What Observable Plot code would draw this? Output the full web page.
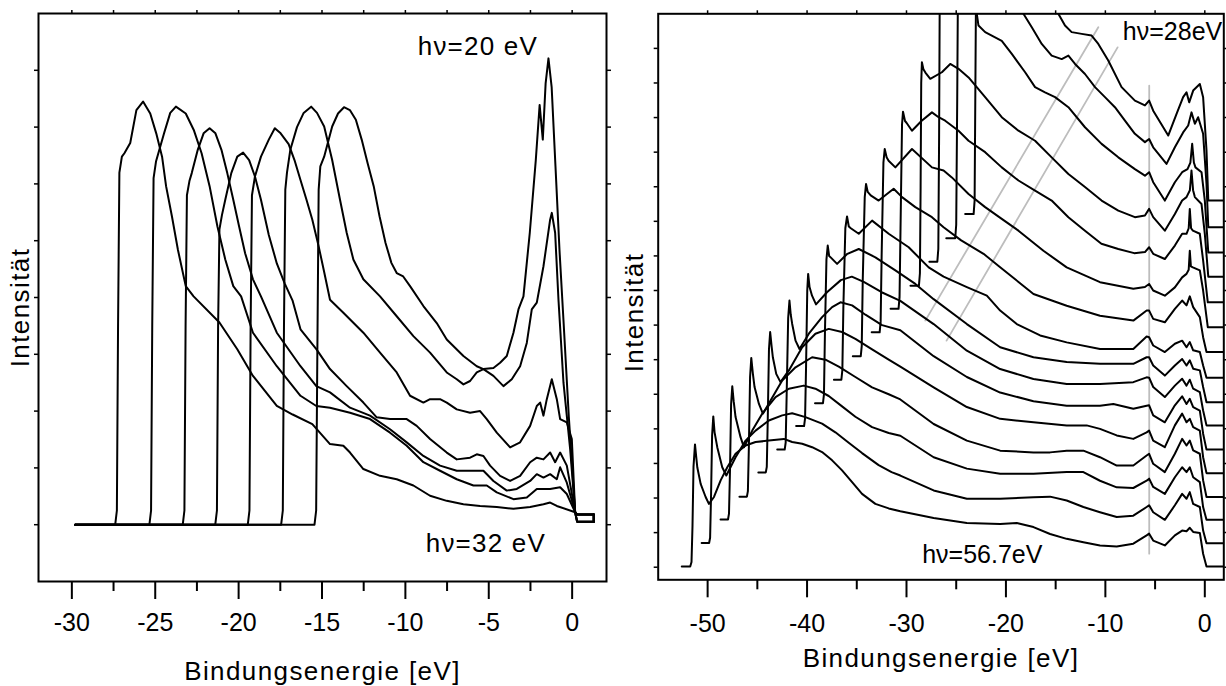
<!DOCTYPE html>
<html><head><meta charset="utf-8">
<script src="https://cdn.jsdelivr.net/npm/d3@7"></script>
<script src="https://cdn.jsdelivr.net/npm/@observablehq/plot@0.6"></script>
<style>
html,body{margin:0;padding:0;background:#fff;}
#wrap{position:relative;width:1226px;height:686px;overflow:hidden;background:#fff;}
#left{position:absolute;left:0;top:0;}
#right{position:absolute;left:620px;top:0;}
</style></head><body><div id="wrap"><div id="left"></div><div id="right"></div></div>
<script>
// ---------- LEFT PANEL DATA (binding energy eV, intensity) ----------
const leftPhotonEnergies = [20, 22, 24, 26, 28, 30, 32];
const hv20 = [[-29.8,1],[-15.45,1],[-15.35,1.25],[-15.28,4.0],[-15.2,6.9],[-15.1,7.31],[-14.87,7.48],[-14.39,8.01],[-14.04,8.24],[-13.68,8.35],[-13.33,8.3],[-12.97,8.13],[-12.62,7.78],[-12.26,7.36],[-11.9,6.96],[-11.55,6.43],[-11.19,5.96],[-10.84,5.61],[-10.52,5.43],[-10.13,5.37],[-9.72,5.2],[-8.92,4.85],[-8.12,4.55],[-7.52,4.26],[-6.52,3.97],[-5.72,3.79],[-5.32,3.74],[-4.72,3.62],[-4.12,3.44],[-3.62,3.56],[-3.12,3.79],[-2.72,4.2],[-2.42,4.79],[-2.12,4.91],[-1.72,5.55],[-1.32,6.37],[-1.22,6.49],[-1.02,6.14],[-0.82,4.96],[-0.52,3.5],[-0.12,2.33],[0.18,1.22],[0.3,1.18],[1.3,1.18],[1.3,1.05]];
const hv22 = [[-29.8,1],[-17.45,1],[-17.35,1.25],[-17.28,4.5],[-17.2,6.9],[-17.1,7.2],[-16.9,7.6],[-16.5,8.0],[-16.1,8.25],[-15.65,8.36],[-15.3,8.25],[-14.87,8.01],[-14.39,7.42],[-13.92,6.72],[-13.52,6.14],[-13.12,5.67],[-12.52,5.32],[-11.52,5.02],[-10.52,4.67],[-9.52,4.32],[-8.52,4.03],[-7.52,3.68],[-6.92,3.56],[-6.52,3.47],[-6.12,3.53],[-5.72,3.68],[-5.32,3.74],[-4.72,3.76],[-4.32,3.85],[-3.92,3.97],[-3.52,4.38],[-3.22,4.79],[-2.92,5.02],[-2.54,6.14],[-2.18,7.42],[-1.95,8.39],[-1.76,7.78],[-1.59,8.77],[-1.42,9.21],[-1.23,8.71],[-1.0,7.31],[-0.76,5.84],[-0.52,4.6],[-0.2,2.9],[0.18,1.22],[0.3,1.05],[1.3,1.05],[1.3,1.18]];
const hv24 = [[-29.8,1],[-19.45,1],[-19.35,1.25],[-19.28,4.5],[-19.2,6.8],[-19.02,7.13],[-18.66,7.48],[-18.19,7.78],[-17.83,7.98],[-17.48,7.89],[-17.0,7.7],[-16.65,7.42],[-16.29,7.07],[-15.93,6.72],[-15.58,6.37],[-15.2,5.9],[-14.87,5.45],[-14.52,4.96],[-13.72,4.73],[-12.52,4.38],[-11.52,4.03],[-10.52,3.68],[-9.72,3.27],[-8.92,3.15],[-8.52,3.21],[-7.92,3.21],[-7.52,3.15],[-6.92,3.03],[-6.12,2.97],[-5.52,3.0],[-5.12,2.86],[-4.52,2.62],[-3.72,2.36],[-3.12,2.45],[-2.52,2.74],[-2.12,3.09],[-1.92,3.15],[-1.72,2.92],[-1.52,3.21],[-1.22,3.56],[-0.92,3.21],[-0.72,2.86],[-0.32,2.8],[-0.02,2.51],[0.18,1.22],[0.3,1.18],[1.3,1.18],[1.3,1.05]];
const hv26 = [[-29.8,1],[-21.4,1],[-21.3,1.25],[-21.23,4.5],[-21.15,6.2],[-21.0,6.45],[-20.8,6.72],[-20.44,7.19],[-20.08,7.48],[-19.73,7.55],[-19.37,7.42],[-19.02,7.13],[-18.66,6.72],[-18.19,6.1],[-17.71,5.6],[-17.24,5.25],[-16.77,4.95],[-16.29,4.44],[-15.34,4.09],[-14.52,3.74],[-13.52,3.44],[-12.52,3.15],[-11.72,2.89],[-10.92,2.86],[-9.92,2.86],[-9.32,2.74],[-8.52,2.51],[-7.52,2.27],[-6.92,2.15],[-6.12,2.18],[-5.72,2.24],[-5.32,2.21],[-4.92,2.04],[-4.32,1.86],[-3.72,1.77],[-3.12,1.86],[-2.52,2.1],[-2.12,2.18],[-1.72,2.15],[-1.32,2.27],[-1.02,2.1],[-0.72,2.27],[-0.32,2.04],[0.18,1.22],[0.3,1.05],[1.3,1.05],[1.3,1.18]];
const hv28 = [[-29.8,1],[-23.35,1],[-23.25,1.25],[-23.18,4.5],[-23.1,6.8],[-22.95,7.05],[-22.81,7.19],[-22.45,7.6],[-22.1,7.89],[-21.74,7.98],[-21.39,7.89],[-21.03,7.6],[-20.68,7.19],[-20.32,6.72],[-19.97,6.25],[-19.61,5.78],[-19.14,5.32],[-18.66,5.02],[-17.71,4.38],[-16.29,3.79],[-15.34,3.44],[-14.52,3.33],[-13.32,3.06],[-12.12,2.92],[-10.92,2.68],[-9.92,2.45],[-8.92,2.21],[-7.92,2.04],[-6.92,1.95],[-5.92,1.95],[-5.32,1.95],[-4.72,1.77],[-3.92,1.6],[-3.32,1.63],[-2.52,1.77],[-2.12,1.89],[-1.72,1.83],[-1.32,1.89],[-0.92,1.8],[-0.72,2.01],[-0.32,1.74],[0.18,1.22],[0.3,1.18],[1.3,1.18],[1.3,1.05]];
const hv30 = [[-29.8,1],[-25.35,1],[-25.25,1.25],[-25.18,4.5],[-25.1,7.1],[-24.95,7.4],[-24.47,7.89],[-24.1,8.25],[-23.76,8.36],[-23.17,8.24],[-22.69,7.95],[-22.22,7.54],[-21.74,6.96],[-21.27,6.25],[-20.8,5.67],[-20.32,5.2],[-19.85,5.02],[-19.14,4.38],[-17.71,3.79],[-16.29,3.27],[-15.34,3.09],[-14.52,3.06],[-13.32,2.97],[-12.12,2.86],[-10.92,2.62],[-9.92,2.39],[-8.92,2.1],[-7.92,1.95],[-6.92,1.8],[-5.92,1.69],[-5.12,1.69],[-4.52,1.57],[-3.52,1.45],[-2.72,1.48],[-2.12,1.63],[-1.32,1.63],[-0.72,1.66],[-0.32,1.54],[0.18,1.22],[0.3,1.05],[1.3,1.05],[1.3,1.18]];
const hv32 = [[-29.8,1],[-27.4,1],[-27.3,1.25],[-27.23,4.5],[-27.15,7.2],[-27.0,7.48],[-26.85,7.54],[-26.5,7.72],[-26.13,8.3],[-25.73,8.45],[-25.3,8.24],[-24.94,7.89],[-24.59,7.48],[-24.35,6.96],[-24.0,6.43],[-23.64,5.84],[-23.17,5.2],[-22.7,5.02],[-21.15,4.56],[-20.08,4.09],[-19.14,3.62],[-17.71,3.09],[-16.76,2.94],[-15.58,2.77],[-14.52,2.42],[-13.72,2.39],[-13.32,2.27],[-12.52,1.98],[-11.52,1.86],[-10.52,1.8],[-9.52,1.69],[-8.52,1.51],[-7.52,1.42],[-6.52,1.36],[-5.52,1.33],[-4.52,1.31],[-3.52,1.28],[-2.52,1.31],[-1.72,1.36],[-1.32,1.39],[-0.92,1.33],[0.18,1.22],[0.3,1.18],[1.3,1.18],[1.3,1.05]];
const leftLabels = [{x: -2.05, y: 9.41, text: "hν=20 eV"}, {x: -1.57, y: 0.66, text: "hν=32 eV"}];
const leftMajorTicks = [-30, -25, -20, -15, -10, -5, 0];
const leftMinorTicks = [-27.5, -22.5, -17.5, -12.5, -7.5, -2.5];
const leftYTicks = [1, 2, 3, 4, 5, 6, 7, 8, 9];

// ---------- RIGHT PANEL DATA ----------
const rightPhotonEnergies = [56.7, 54.8, 52.9, 51.0, 49.0, 47.1, 45.2, 43.3, 41.4, 39.5, 37.6, 35.7, 33.7, 31.8, 29.9, 28.0];
const r56_7 = [[-52.6,0.02],[-51.75,0.02],[-51.62,0.15],[-51.52,1.2],[-51.42,2.9],[-51.27,3.55],[-51.15,3.2],[-51.04,2.89],[-50.7,2.41],[-50.2,2.03],[-49.87,1.83],[-49.36,2.03],[-48.69,2.51],[-48.02,2.89],[-47.19,3.28],[-46.18,3.52],[-45.18,3.62],[-43.84,3.66],[-42.33,3.71],[-41.5,3.62],[-40.49,3.57],[-39.49,3.47],[-38.49,3.33],[-37.48,3.09],[-36.48,2.8],[-35.47,2.46],[-34.47,2.12],[-33.13,1.83],[-31.79,1.7],[-30.62,1.62],[-27.27,1.42],[-23.93,1.28],[-20.58,1.25],[-18.91,1.28],[-17.23,1.16],[-15.56,0.96],[-13.89,0.82],[-12.21,0.72],[-10.54,0.63],[-8.86,0.6],[-7.19,0.68],[-5.85,0.92],[-5.6,0.97],[-5.19,0.77],[-4.02,0.63],[-3.01,0.92],[-2.28,1.06],[-1.84,1.04],[-1.51,1.14],[-1.17,1.02],[-0.5,0.99],[-0.17,0.39],[0.17,0.02],[1.9,0.02]];
const r54_8 = [[-50.6,0.7],[-49.85,0.7],[-49.75,0.85],[-49.66,2.0],[-49.55,3.8],[-49.43,4.36],[-49.3,3.9],[-49.03,3.47],[-48.53,2.89],[-48.12,2.65],[-47.19,3.18],[-46.18,3.66],[-45.18,3.95],[-43.84,4.24],[-42.5,4.39],[-41.5,4.45],[-40.16,4.34],[-38.49,4.15],[-37.15,3.9],[-35.81,3.6],[-34.47,3.3],[-32.8,2.95],[-31.5,2.75],[-30.62,2.65],[-27.27,2.22],[-23.93,1.98],[-20.58,1.98],[-17.23,2.02],[-15.56,2.04],[-13.89,1.93],[-12.21,1.74],[-10.54,1.59],[-8.86,1.45],[-7.19,1.49],[-5.85,1.74],[-5.6,1.79],[-5.19,1.59],[-4.02,1.37],[-3.01,1.79],[-2.28,2.12],[-1.84,1.98],[-1.51,2.17],[-1.17,1.83],[-0.5,1.74],[-0.17,1.06],[0.17,0.69],[1.9,0.69]];
const r52_9 = [[-48.7,1.38],[-47.95,1.38],[-47.85,1.55],[-47.75,2.8],[-47.64,4.7],[-47.52,5.23],[-47.38,4.8],[-47.19,4.34],[-46.69,3.76],[-46.35,3.47],[-45.51,3.95],[-44.51,4.44],[-43.17,4.92],[-41.83,5.16],[-40.33,5.25],[-39.16,5.16],[-37.82,4.95],[-36.48,4.65],[-35.14,4.35],[-33.46,4.05],[-31.79,3.88],[-30.62,3.8],[-27.27,3.18],[-23.93,2.85],[-20.58,2.7],[-17.23,2.7],[-13.89,2.75],[-12.21,2.75],[-10.54,2.5],[-8.86,2.31],[-7.19,2.29],[-5.85,2.5],[-5.6,2.56],[-5.19,2.32],[-4.02,2.12],[-3.01,2.6],[-2.28,2.89],[-1.84,2.75],[-1.51,2.89],[-1.17,2.6],[-0.5,2.46],[-0.17,1.74],[0.17,1.37],[1.9,1.37]];
const r51_0 = [[-46.8,2.04],[-46.05,2.04],[-45.95,2.2],[-45.85,3.5],[-45.73,5.5],[-45.61,6.05],[-45.45,5.6],[-45.28,5.21],[-44.84,4.72],[-44.44,4.44],[-43.67,4.82],[-42.5,5.4],[-41.16,5.78],[-39.49,6.07],[-38.15,6.0],[-36.81,5.8],[-35.14,5.5],[-33.46,5.2],[-31.79,5.0],[-30.62,4.85],[-27.27,4.14],[-23.93,3.66],[-20.58,3.37],[-17.23,3.32],[-15.56,3.32],[-13.89,3.37],[-12.21,3.37],[-10.54,3.18],[-8.86,2.94],[-7.19,2.94],[-5.85,3.23],[-5.6,3.28],[-5.19,2.99],[-4.02,2.75],[-3.01,3.28],[-2.28,3.71],[-1.84,3.52],[-1.51,3.66],[-1.17,3.38],[-0.5,3.28],[-0.17,2.51],[0.17,2.03],[1.9,2.03]];
const r49_0 = [[-44.9,2.74],[-44.15,2.74],[-44.05,2.9],[-43.95,4.3],[-43.83,6.3],[-43.71,6.8],[-43.57,6.4],[-43.44,6.07],[-43.1,5.59],[-42.67,5.35],[-41.83,5.69],[-40.49,6.36],[-39.16,6.75],[-37.82,6.89],[-36.48,6.8],[-35.14,6.6],[-33.46,6.3],[-31.79,6.0],[-30.62,5.8],[-27.27,5.2],[-23.93,4.63],[-20.58,4.29],[-17.23,4.19],[-13.89,4.1],[-11.88,4.1],[-10.54,4.0],[-8.86,3.81],[-7.19,3.71],[-5.85,3.9],[-5.6,3.95],[-5.19,3.66],[-4.02,3.47],[-3.01,4.1],[-2.28,4.44],[-1.84,4.19],[-1.51,4.29],[-1.17,4.05],[-0.5,3.95],[-0.17,3.18],[0.17,2.72],[1.9,2.72]];
const r47_1 = [[-43.0,3.4],[-42.25,3.4],[-42.15,3.6],[-42.05,5.0],[-41.9,7.2],[-41.77,7.71],[-41.64,7.3],[-41.5,7.04],[-41.16,6.55],[-40.76,6.31],[-39.82,6.75],[-38.49,7.23],[-37.48,7.52],[-36.64,7.66],[-35.47,7.57],[-34.13,7.3],[-32.46,7.0],[-30.62,6.85],[-27.27,6.1],[-23.93,5.5],[-20.58,5.05],[-17.23,4.8],[-13.89,4.67],[-10.54,4.67],[-9.2,4.72],[-7.19,4.58],[-5.85,4.67],[-5.6,4.68],[-5.19,4.39],[-4.02,4.19],[-3.01,4.68],[-2.28,4.94],[-1.84,4.72],[-1.51,4.87],[-1.17,4.63],[-0.5,4.53],[-0.17,3.86],[0.17,3.4],[1.9,3.4]];
const r45_2 = [[-41.1,4.08],[-40.3,4.08],[-40.2,4.3],[-40.1,5.8],[-39.98,8.0],[-39.89,8.48],[-39.75,8.1],[-39.5,7.85],[-39.1,7.6],[-38.0,7.95],[-36.6,8.3],[-35.5,8.4],[-34.3,8.25],[-32.5,7.95],[-30.62,7.7],[-27.27,7.03],[-23.93,6.26],[-20.58,5.73],[-17.23,5.44],[-13.89,5.3],[-10.54,5.3],[-7.19,5.35],[-5.85,5.49],[-5.6,5.48],[-5.19,5.21],[-4.02,4.92],[-3.01,5.25],[-2.28,5.45],[-1.84,5.25],[-1.51,5.42],[-1.17,5.16],[-0.5,5.06],[-0.17,4.53],[0.17,4.1],[1.9,4.1]];
const r43_3 = [[-39.2,4.74],[-38.4,4.74],[-38.3,5.0],[-38.2,6.8],[-38.05,8.9],[-37.92,9.3],[-37.78,9.0],[-37.6,8.95],[-36.98,8.77],[-36.0,9.05],[-34.8,9.2],[-33.13,8.96],[-31.12,8.58],[-29.11,8.19],[-27.27,7.75],[-23.93,7.03],[-20.58,6.36],[-17.23,6.07],[-13.89,5.93],[-10.54,5.88],[-7.19,5.88],[-5.85,6.07],[-5.6,6.07],[-5.19,5.83],[-4.02,5.54],[-3.01,5.83],[-2.28,6.02],[-1.84,5.83],[-1.51,5.98],[-1.17,5.74],[-0.5,5.69],[-0.17,5.21],[0.17,4.77],[1.9,4.77]];
const r41_4 = [[-37.3,5.42],[-36.55,5.42],[-36.45,5.7],[-36.35,7.5],[-36.15,9.8],[-35.98,10.14],[-35.8,9.85],[-35.6,9.8],[-34.8,9.64],[-33.46,10.02],[-31.79,9.64],[-29.78,9.25],[-27.77,8.67],[-26.27,8.4],[-23.93,8.1],[-21.92,7.85],[-20.58,7.42],[-18.91,7.03],[-16.56,6.7],[-13.89,6.5],[-10.54,6.31],[-7.19,6.31],[-5.85,6.67],[-5.6,6.65],[-5.19,6.41],[-4.02,6.22],[-3.01,6.46],[-2.28,6.55],[-1.84,6.36],[-1.51,6.51],[-1.17,6.27],[-0.5,6.22],[-0.17,5.83],[0.17,5.48],[1.9,5.48]];
const r39_5 = [[-35.4,6.1],[-34.6,6.1],[-34.5,6.4],[-34.4,8.3],[-34.2,10.7],[-34.07,11.08],[-33.9,10.85],[-33.6,10.75],[-32.8,10.6],[-31.29,10.94],[-30.45,10.7],[-29.11,10.41],[-27.44,10.12],[-26.27,9.83],[-24.5,9.45],[-22.25,9.06],[-20.58,8.67],[-17.23,7.9],[-13.89,7.56],[-10.54,7.27],[-7.19,7.13],[-5.85,7.42],[-5.6,7.42],[-5.19,7.18],[-4.02,7.08],[-3.01,7.47],[-2.28,7.71],[-1.84,7.57],[-1.51,7.83],[-1.17,7.52],[-0.5,7.23],[-0.17,6.65],[0.17,6.22],[1.9,6.22]];
const r37_6 = [[-33.5,6.79],[-32.7,6.79],[-32.6,7.1],[-32.5,9.0],[-32.32,11.7],[-32.19,12.09],[-32.0,11.85],[-31.8,11.75],[-31.12,11.56],[-29.45,12.09],[-27.44,11.56],[-26.27,11.47],[-25.44,11.27],[-23.76,10.79],[-22.09,10.41],[-20.42,10.07],[-18.74,9.73],[-16.23,9.15],[-13.89,8.67],[-10.54,8.24],[-7.19,8.05],[-6.02,8.1],[-5.6,8.19],[-5.19,8.0],[-4.02,7.85],[-3.01,8.09],[-2.28,8.38],[-1.84,8.48],[-1.62,8.6],[-1.51,9.15],[-1.4,8.7],[-1.2,8.67],[-0.5,8.58],[-0.17,8.0],[0.3,6.94],[1.9,6.94]];
const r35_7 = [[-31.6,7.47],[-30.8,7.47],[-30.7,7.8],[-30.6,9.8],[-30.45,12.8],[-30.35,13.17],[-30.15,12.9],[-30.0,12.85],[-29.45,12.62],[-28.5,12.9],[-27.44,13.15],[-26.77,13.01],[-26.11,12.91],[-24.77,12.62],[-23.76,12.33],[-22.09,12.0],[-20.42,11.56],[-18.74,11.18],[-17.07,10.89],[-15.4,10.6],[-13.72,10.12],[-12.05,9.73],[-10.4,9.35],[-8.7,9.2],[-7.1,9.08],[-6.02,9.11],[-5.6,9.25],[-5.19,9.06],[-4.02,8.91],[-3.01,9.3],[-2.28,9.64],[-1.84,9.64],[-1.62,9.8],[-1.51,10.36],[-1.38,9.8],[-1.2,9.73],[-0.5,9.64],[-0.17,8.87],[0.3,7.66],[1.9,7.66]];
const r33_7 = [[-29.6,8.14],[-28.75,8.14],[-28.65,8.5],[-28.58,11.0],[-28.52,14.0],[-28.45,14.6],[-28.3,14.4],[-28.1,14.3],[-27.61,14.12],[-26.44,14.31],[-25.6,14.55],[-24.77,14.41],[-23.76,14.16],[-22.09,13.59],[-20.42,13.01],[-18.74,12.62],[-17.07,12.33],[-15.4,11.85],[-13.72,11.37],[-12.05,10.99],[-10.38,10.6],[-8.7,10.31],[-7.03,10.12],[-6.02,10.17],[-5.6,10.36],[-5.19,10.12],[-4.02,9.73],[-3.01,10.21],[-2.28,10.6],[-1.84,10.7],[-1.5,10.9],[-1.34,11.47],[-1.18,10.9],[-1.0,10.7],[-0.33,10.5],[0.0,9.64],[0.35,8.4],[1.9,8.4]];
const r31_8 = [[-27.7,8.83],[-26.9,8.83],[-26.8,9.2],[-26.72,12.5],[-26.65,17.0],[-26.4,17.8],[-25.0,18.6],[-23.8,17.3],[-22.93,16.0],[-22.76,15.66],[-22.09,15.47],[-20.42,15.22],[-19.41,14.84],[-18.07,14.31],[-17.07,13.88],[-16.07,13.73],[-15.06,13.59],[-13.72,13.3],[-12.05,12.72],[-10.38,12.24],[-8.7,11.85],[-7.03,11.51],[-6.02,11.32],[-5.6,11.42],[-5.19,11.13],[-4.02,10.6],[-3.01,11.13],[-2.28,11.42],[-1.74,11.51],[-1.45,11.7],[-1.27,12.24],[-1.1,11.7],[-0.94,11.56],[-0.33,11.42],[0.0,10.6],[0.35,9.1],[1.9,9.1]];
const r29_9 = [[-26.0,9.51],[-25.1,9.51],[-25.0,9.9],[-24.9,13.5],[-24.82,17.0],[-24.5,18.0],[-22.0,18.5],[-19.5,16.9],[-18.24,16.0],[-17.4,15.61],[-16.4,15.13],[-15.4,14.79],[-14.39,14.69],[-13.72,14.79],[-13.05,14.55],[-12.05,14.26],[-11.04,13.88],[-10.04,13.59],[-9.04,13.3],[-8.03,12.91],[-7.03,12.53],[-6.02,12.29],[-5.6,12.38],[-5.19,12.14],[-3.85,11.66],[-3.01,12.14],[-2.18,12.57],[-1.67,12.77],[-1.34,13.15],[-1.0,12.82],[-0.67,13.01],[-0.17,12.53],[0.17,11.08],[0.35,9.83],[1.9,9.83]];
const r28_0 = [[-24.1,10.21],[-23.25,10.21],[-23.15,10.6],[-23.07,14.0],[-23.0,17.0],[-22.6,18.0],[-19.0,18.8],[-15.8,16.8],[-14.73,16.0],[-14.06,15.66],[-13.39,15.47],[-12.38,15.42],[-11.38,15.37],[-10.71,15.13],[-9.71,14.65],[-8.37,13.88],[-7.03,13.49],[-6.02,13.35],[-5.6,13.49],[-5.19,13.2],[-3.68,12.48],[-2.85,13.1],[-2.18,13.59],[-1.84,13.73],[-1.57,13.44],[-1.17,13.78],[-0.5,13.97],[-0.17,13.59],[0.17,12.05],[0.35,10.6],[1.9,10.6]];
const grayDiagonal1 = [[-28.11, 7.13], [-10.71, 15.61]];
const grayDiagonal2 = [[-25.97, 6.55], [-8.77, 15.03]];
const grayVertical = [[-5.59, 0.39], [-5.59, 13.92]];
const rightLabelTop = [{x: 1.75, y: 15.46, text: "hν=28eV"}];
const rightLabelBottom = [{x: -28.42, y: 0.34, text: "hν=56.7eV"}];
const rightMajorTicks = [-50, -40, -30, -20, -10, 0];
const rightMinorTicks = [-45, -35, -25, -15, -5];
const rightYTicks = [0, 1, 2, 3, 4, 5, 6, 7, 8, 9, 10, 11, 12, 13, 14, 15];
const axisTitleX = "Bindungsenergie [eV]";
const axisTitleY = "Intensität";

// ---------- BUILD ----------
const rows = (pts, id) => pts.map(([x, y]) => ({x, y, id}));
const leftCurves = [hv20, hv22, hv24, hv26, hv28, hv30, hv32];
const rightCurves = [r56_7, r54_8, r52_9, r51_0, r49_0, r47_1, r45_2, r43_3, r41_4, r39_5, r37_6, r35_7, r33_7, r31_8, r29_9, r28_0];
const leftRows = leftCurves.flatMap((c, i) => rows(c, "L" + leftPhotonEnergies[i]));
const rightRows = rightCurves.flatMap((c, i) => rows(c, "R" + rightPhotonEnergies[i]));
const grayRows = [...rows(grayDiagonal1, "g1"), ...rows(grayDiagonal2, "g2"), ...rows(grayVertical, "g3")];
const fmt = d => String(d);
const blank = () => "";
const font = "'Liberation Sans', Arial, Helvetica, sans-serif";
const baseStyle = {fontFamily: font, fontSize: "25px", color: "#000", background: "transparent", overflow: "visible"};

function frameAxes(major, minor, yTicks, padBottom) {
  return [
    Plot.axisX({ticks: major, tickSize: 18, tickPadding: padBottom, tickFormat: fmt, label: null, strokeWidth: 2}),
    Plot.axisX({ticks: minor, tickSize: 10, tickFormat: blank, label: null, strokeWidth: 2}),
    Plot.axisX({anchor: "top", ticks: [...major, ...minor], tickSize: 4, tickFormat: blank, label: null, strokeWidth: 1.5}),
    Plot.axisY({anchor: "left", ticks: yTicks, tickSize: 4, tickFormat: blank, label: null, strokeWidth: 1.5}),
    Plot.axisY({anchor: "right", ticks: yTicks, tickSize: 4, tickFormat: blank, label: null, strokeWidth: 1.5}),
    Plot.frame({stroke: "#000", strokeWidth: 2})
  ];
}

const leftPlot = Plot.plot({
  width: 620, height: 686,
  marginLeft: 38, marginRight: 14, marginTop: 13, marginBottom: 105,
  x: {domain: [-32.0, 2.06]},
  y: {domain: [0, 10]},
  style: baseStyle,
  marks: [
    ...frameAxes(leftMajorTicks, leftMinorTicks, leftYTicks, 14),
    Plot.line(leftRows, {x: "x", y: "y", z: "id", stroke: "#000", strokeWidth: 2, strokeLinejoin: "round"}),
    Plot.text(leftLabels, {x: "x", y: "y", text: "text", textAnchor: "end", lineAnchor: "middle", fontSize: 26}),
    Plot.text([axisTitleX], {frameAnchor: "bottom", dy: 89.7, textAnchor: "middle", lineAnchor: "middle", fontSize: 26}),
    Plot.text([axisTitleY], {frameAnchor: "left", rotate: -90, dx: -18, dy: 10, textAnchor: "middle", lineAnchor: "middle", fontSize: 26})
  ]
});

const rightPlot = Plot.plot({
  width: 606, height: 686,
  marginLeft: 37.7, marginRight: 2.7, marginTop: 13.3, marginBottom: 106.7,
  x: {domain: [-54.97, 1.91]},
  y: {domain: [-0.364, 16]},
  style: baseStyle,
  marks: [
    ...frameAxes(rightMajorTicks, rightMinorTicks, rightYTicks, 16.5),
    Plot.line(grayRows, {x: "x", y: "y", z: "id", stroke: "#bdbdbd", strokeWidth: 1.8}),
    Plot.line(rightRows, {x: "x", y: "y", z: "id", stroke: "#000", strokeWidth: 2, strokeLinejoin: "round", clip: true}),
    Plot.text(rightLabelTop, {x: "x", y: "y", text: "text", textAnchor: "end", lineAnchor: "middle", fontSize: 25}),
    Plot.text(rightLabelBottom, {x: "x", y: "y", text: "text", textAnchor: "start", lineAnchor: "middle", fontSize: 25}),
    Plot.text([axisTitleX], {frameAnchor: "bottom", dy: 79.1, textAnchor: "middle", lineAnchor: "middle", fontSize: 26}),
    Plot.text([axisTitleY], {frameAnchor: "left", rotate: -90, dx: -23.7, dy: 15.7, textAnchor: "middle", lineAnchor: "middle", fontSize: 26})
  ]
});

document.getElementById("left").appendChild(leftPlot);
document.getElementById("right").appendChild(rightPlot);

const spaced = {"Bindungsenergie [eV]": "1.4px", "Intensität": "1.4px", "hν=20 eV": "1.2px", "hν=32 eV": "1.2px"};
for (const svg of [leftPlot, rightPlot]) {
  d3.select(svg).selectAll("text").each(function () {
    const t = this.textContent;
    if (spaced[t]) this.setAttribute("letter-spacing", spaced[t]);
  });
}
</script></body></html>
